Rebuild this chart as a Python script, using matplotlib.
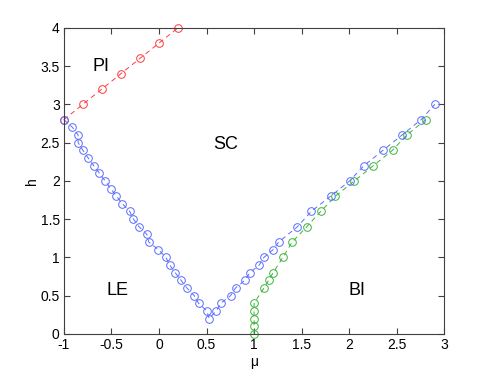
import matplotlib
matplotlib.use("Agg")
import matplotlib.pyplot as plt
import numpy as np

plt.rcParams['font.family'] = ['Liberation Sans', 'DejaVu Sans']

# PI / SC boundary (red)
mu_pi = [-1.0, -0.8, -0.6, -0.4, -0.2, 0.0, 0.2]
h_pi = [2.8, 3.0, 3.2, 3.4, 3.6, 3.8, 4.0]

# SC boundary (blue)
mu_sc = [-1.0, -0.91, -0.85, -0.85, -0.80, -0.745, -0.686, -0.626, -0.566,
         -0.507, -0.447, -0.384, -0.307, -0.268, -0.209, -0.128, -0.107,
         -0.005, 0.072, 0.114, 0.17, 0.233, 0.293, 0.37, 0.416, 0.503,
         0.528, 0.602, 0.65, 0.753, 0.805, 0.903, 0.956, 1.054, 1.103,
         1.20, 1.258, 1.455, 1.60, 1.805, 2.005, 2.156, 2.356, 2.556,
         2.756, 2.90]
h_sc = [2.8, 2.7, 2.6, 2.5, 2.4, 2.3, 2.2, 2.1, 2.0,
        1.9, 1.8, 1.7, 1.6, 1.5, 1.4, 1.3, 1.2,
        1.1, 1.0, 0.9, 0.8, 0.7, 0.6, 0.5, 0.4, 0.3,
        0.2, 0.3, 0.4, 0.5, 0.6, 0.7, 0.8, 0.9, 1.0,
        1.1, 1.2, 1.4, 1.6, 1.8, 2.0, 2.2, 2.4, 2.6,
        2.8, 3.0]

# BI boundary (green)
mu_bi = [1.0, 1.0, 1.0, 1.0, 1.0, 1.103, 1.153, 1.20, 1.303, 1.40, 1.553,
         1.70, 1.855, 2.055, 2.255, 2.455, 2.605, 2.805]
h_bi = [0.0, 0.1, 0.2, 0.3, 0.4, 0.6, 0.7, 0.8, 1.0, 1.2, 1.4,
        1.6, 1.8, 2.0, 2.2, 2.4, 2.6, 2.8]

phases = ["PI", "SC", "LE", "BI"]
phase_mu = [-0.61, 0.70, -0.44, 2.08]
phase_h = [3.49, 2.47, 0.57, 0.57]

fig = plt.figure(figsize=(4.91, 3.76), dpi=100)
ax = fig.add_axes([0.13, 0.112, 0.775, 0.814])

style = dict(linestyle="--", marker="o", markerfacecolor="none",
             markersize=5.5, linewidth=0.7, markeredgewidth=0.7,
             dashes=(5, 4), clip_on=False)
ax.plot(mu_pi, h_pi, color="#ff3b3b", **style)
ax.plot(mu_bi, h_bi, color="#3cb43c", **style)
ax.plot(mu_sc, h_sc, color="#5a6cff", **style)

for name, x, y in zip(phases, phase_mu, phase_h):
    ax.text(x, y, name, fontsize=13, ha="center", va="center")

ax.set_xlim(-1, 3)
ax.set_ylim(0, 4)
ax.set_xticks(np.arange(-1, 3.01, 0.5))
ax.set_yticks(np.arange(0, 4.01, 0.5))
ax.set_xticklabels(["-1", "-0.5", "0", "0.5", "1", "1.5", "2", "2.5", "3"])
ax.set_yticklabels(["0", "0.5", "1", "1.5", "2", "2.5", "3", "3.5", "4"])
ax.tick_params(direction="in", top=True, right=True, labelsize=10,
               length=4, width=0.8, color="#404040", pad=3)
for s in ax.spines.values():
    s.set_color("#404040")
    s.set_linewidth(0.8)
ax.set_xlabel("μ", fontsize=10, labelpad=2)
ax.set_ylabel("h", fontsize=10, labelpad=1)

fig.savefig("out.png", dpi=100)
